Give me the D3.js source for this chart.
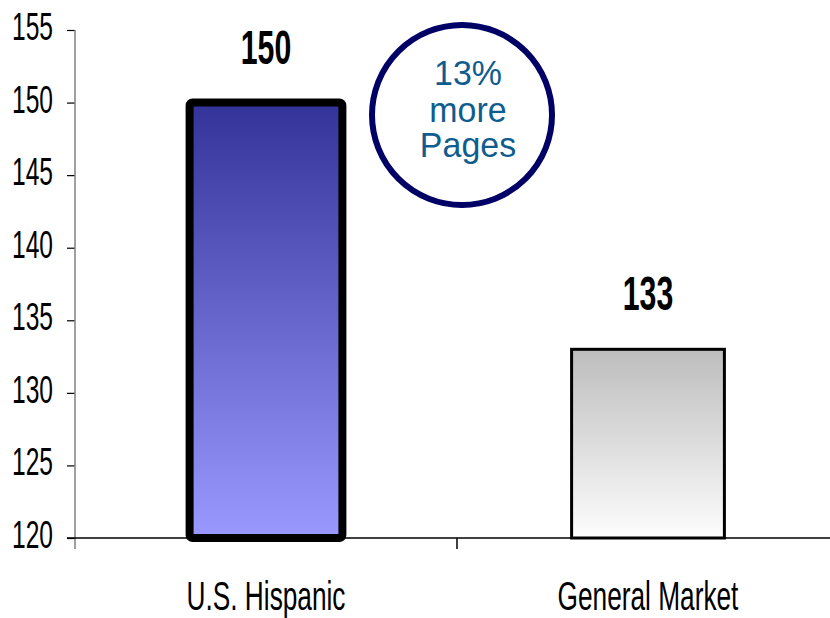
<!DOCTYPE html>
<html><head><meta charset="utf-8">
<script src="https://cdn.jsdelivr.net/npm/d3@7"></script>
<style>body{margin:0;background:#fff}svg{display:block}</style>
</head><body>
<script>
const categories = ["U.S. Hispanic", "General Market"];
const values = [150, 133];
const yTicks = [120, 125, 130, 135, 140, 145, 150, 155];
const calloutLines = ["13%", "more", "Pages"];

const W = 830, H = 618;
const svg = d3.select("body").append("svg").attr("width", W).attr("height", H);
const sans = "'Liberation Sans',Arial,Helvetica,sans-serif";

const y = d3.scaleLinear().domain([120, 155]).range([538, 30]);
const x = d3.scaleBand().domain(categories).range([75, 839]).padding(0);
const bw = x.bandwidth() * 0.4;
const cx = c => x(c) + x.bandwidth() / 2;

const defs = svg.append("defs");
const g1 = defs.append("linearGradient").attr("id", "gH").attr("x1", 0).attr("y1", 0).attr("x2", 0).attr("y2", 1);
g1.append("stop").attr("offset", "0%").attr("stop-color", "#333399");
g1.append("stop").attr("offset", "100%").attr("stop-color", "#9999ff");
const g2 = defs.append("linearGradient").attr("id", "gG").attr("x1", 0).attr("y1", 0).attr("x2", 0).attr("y2", 1);
g2.append("stop").attr("offset", "0%").attr("stop-color", "#bdbdbd");
g2.append("stop").attr("offset", "100%").attr("stop-color", "#fdfdfd");

// y axis
const yAxis = svg.append("g").attr("transform", "translate(75,0)")
  .call(d3.axisLeft(y).tickValues(yTicks).tickSize(8).tickPadding(0).tickFormat(() => ""));
yAxis.select(".domain").remove();
yAxis.selectAll(".tick line").attr("stroke", "#000").attr("stroke-width", 1.2);
svg.selectAll(".ylab").data(yTicks).join("text")
  .attr("transform", d => `translate(53,${y(d) + 10}) scale(0.63,1)`)
  .attr("text-anchor", "end")
  .attr("font-family", sans).attr("font-size", 39).attr("fill", "#000")
  .text(d => d);
svg.append("line").attr("x1", 75).attr("x2", 75).attr("y1", y(155)).attr("y2", y(120) + 11)
  .attr("stroke", "#808080").attr("stroke-width", 1.5);

// x axis
svg.append("line").attr("x1", 67).attr("x2", W).attr("y1", y(120)).attr("y2", y(120))
  .attr("stroke", "#000").attr("stroke-width", 1.5);
const bounds = categories.slice(1).map(c => x(c));
svg.selectAll(".xt").data(bounds).join("line")
  .attr("x1", d => d).attr("x2", d => d).attr("y1", y(120)).attr("y2", y(120) + 11)
  .attr("stroke", "#000").attr("stroke-width", 1.5);

// bars
const fills = ["url(#gH)", "url(#gG)"];
const strokes = [8, 3];
svg.selectAll(".bar").data(values).join("rect")
  .attr("x", (d, i) => cx(categories[i]) - bw / 2)
  .attr("width", bw)
  .attr("y", d => y(d))
  .attr("height", d => y(120) - y(d))
  .attr("rx", (d, i) => i === 0 ? 3 : 0)
  .attr("fill", (d, i) => fills[i])
  .attr("stroke", "#000")
  .attr("stroke-width", (d, i) => strokes[i]);

// value labels
svg.selectAll(".val").data(values).join("text")
  .attr("transform", (d, i) => `translate(${cx(categories[i])},${y(d) - 39}) scale(0.63,1)`)
  .attr("text-anchor", "middle")
  .attr("font-family", sans).attr("font-weight", "bold").attr("font-size", 48)
  .text(d => d);

// category labels
svg.selectAll(".cat").data(categories).join("text")
  .attr("transform", d => `translate(${cx(d)},610) scale(0.64,1)`)
  .attr("text-anchor", "middle")
  .attr("font-family", sans).attr("font-size", 41)
  .text(d => d);

// callout
svg.append("circle").attr("cx", 462).attr("cy", 115).attr("r", 90)
  .attr("fill", "#fff").attr("stroke", "#000066").attr("stroke-width", 6);
const coY = [85, 121.5, 157];
svg.selectAll(".co").data(calloutLines).join("text")
  .attr("transform", (d, i) => `translate(468,${coY[i]}) scale(0.97,1)`)
  .attr("text-anchor", "middle")
  .attr("font-family", sans).attr("font-size", 35)
  .attr("fill", "#0f5c8e")
  .text(d => d);
</script>
</body></html>
